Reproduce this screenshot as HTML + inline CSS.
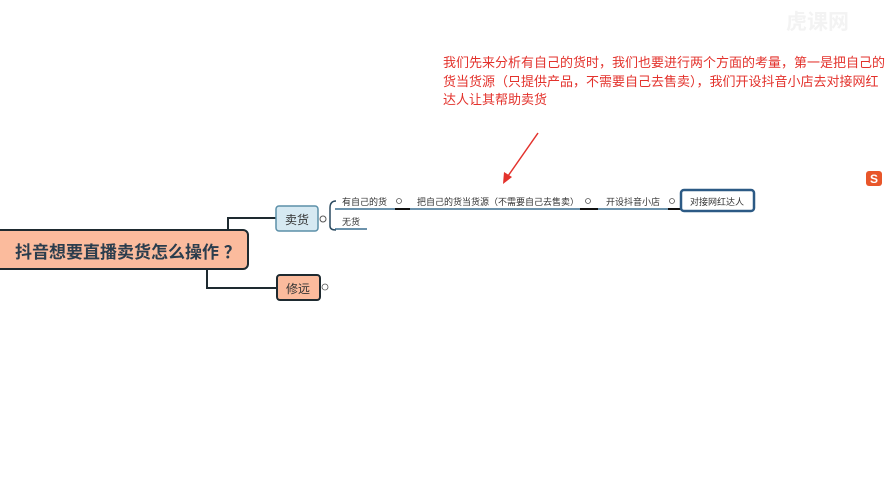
<!DOCTYPE html>
<html><head><meta charset="utf-8"><style>
body{margin:0;width:889px;height:500px;background:#fff;position:relative;overflow:hidden;font-family:"Liberation Sans","Noto Sans CJK SC",sans-serif}
.a{position:absolute;white-space:nowrap}
.red{left:443px;top:54px;color:#e3322c;font-size:13px;letter-spacing:0;line-height:18.5px;white-space:nowrap}
.s{font-size:9px;color:#333}
</style></head><body>
<div class="a" style="left:786px;top:6px;color:#f3f3f3;font-size:21px;font-weight:bold">虎课网</div>
<div class="a red">我们先来分析有自己的货时，我们也要进行两个方面的考量，第一是把自己的<br>货当货源（只提供产品，不需要自己去售卖），我们开设抖音小店去对接网红<br>达人让其帮助卖货</div>
<svg class="a" style="left:0;top:0" width="889" height="500">
<path d="M228 230 V218 H276" stroke="#1e2a30" stroke-width="2" fill="none"/>
<path d="M207 269 V288 H277" stroke="#1e2a30" stroke-width="2" fill="none"/>
<line x1="538" y1="133" x2="508" y2="176" stroke="#e3322c" stroke-width="1.5"/>
<polygon points="503,184 504,172 512,177" fill="#e3322c"/>
<circle cx="323" cy="219" r="3" fill="#fff" stroke="#555"/>
<path d="M336 201 Q330 201 330 208 V226 Q330 230 336 230" stroke="#2b4a60" stroke-width="1.5" fill="none"/>
<line x1="335" y1="209" x2="395" y2="209" stroke="#3b6f8f" stroke-width="1.5"/>
<line x1="335" y1="229" x2="367" y2="229" stroke="#3b6f8f" stroke-width="1.5"/>
<line x1="395" y1="209" x2="410" y2="209" stroke="#111" stroke-width="2"/>
<line x1="410" y1="209" x2="580" y2="209" stroke="#3b6f8f" stroke-width="1.5"/>
<line x1="580" y1="209" x2="598" y2="209" stroke="#111" stroke-width="2"/>
<line x1="598" y1="209" x2="668" y2="209" stroke="#3b6f8f" stroke-width="1.5"/>
<line x1="668" y1="209" x2="681" y2="209" stroke="#111" stroke-width="2"/>
<circle cx="399" cy="201" r="2.5" fill="none" stroke="#555" stroke-width="0.8"/>
<circle cx="588" cy="201" r="2.5" fill="none" stroke="#555" stroke-width="0.8"/>
<circle cx="672" cy="201" r="2.5" fill="none" stroke="#555" stroke-width="0.8"/>
<circle cx="325" cy="287" r="3" fill="none" stroke="#555" stroke-width="0.8"/>
<rect x="-5" y="230" width="253" height="39" rx="5" fill="#fbbb9d" stroke="#1e2a30" stroke-width="2"/>
<rect x="276" y="206" width="42" height="25" rx="3" fill="#d6e9f2" stroke="#5b8fa8" stroke-width="1.5"/>
<rect x="277" y="275" width="43" height="25" rx="3" fill="#fbbb9d" stroke="#1e2a30" stroke-width="2"/>
<rect x="681" y="190" width="73" height="21" rx="3" fill="#fff" stroke="#2c5a85" stroke-width="2.5"/>
<rect x="866" y="171" width="16" height="15" rx="3" fill="#e8562a"/>
<text x="870" y="183" font-size="12" font-weight="bold" fill="#fff" font-family="Liberation Sans">S</text>
</svg>
<div class="a" style="left:15px;top:238px;font-size:17px;font-weight:bold;color:#2b3d4d">抖音想要直播卖货怎么操作 ？</div>
<div class="a" style="left:285px;top:211px;font-size:12px;color:#333">卖货</div>
<div class="a" style="left:286px;top:280px;font-size:12px;color:#333">修远</div>
<div class="a s" style="left:342px;top:195px">有自己的货</div>
<div class="a s" style="left:342px;top:215px">无货</div>
<div class="a s" style="left:417px;top:195px">把自己的货当货源（不需要自己去售卖）</div>
<div class="a s" style="left:606px;top:195px">开设抖音小店</div>
<div class="a s" style="left:690px;top:195px">对接网红达人</div>
</body></html>
